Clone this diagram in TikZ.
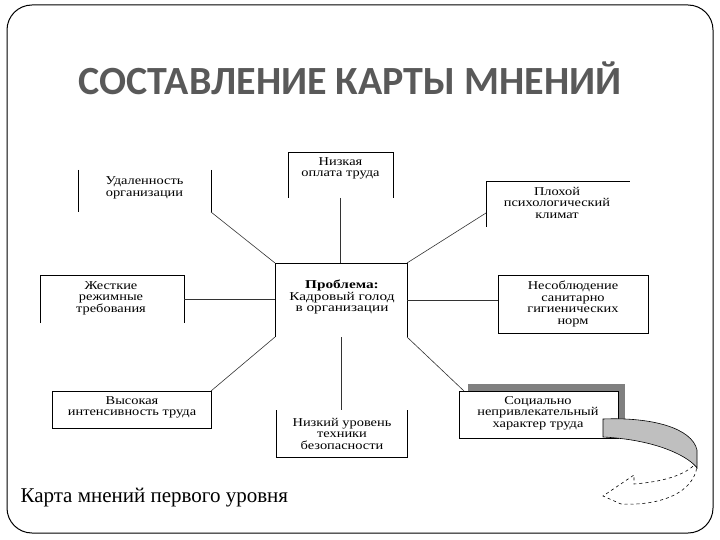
\documentclass[tikz,border=0pt]{standalone}
\usepackage{fontspec}
\setmainfont{Liberation Serif}
\newfontfamily\titlefont{Carlito}
\usetikzlibrary{calc}
\begin{document}
\begin{tikzpicture}[x=1pt,y=-1pt,
  bx/.style={rectangle,inner sep=0pt,outer sep=0pt},
  txt/.style={font=\fontsize{12}{11.5}\selectfont,align=center,inner sep=0pt,xscale=1.2,transform shape},
  side/.style={line width=0.9pt,black},
  conn/.style={line width=0.6pt,black!80}]
\useasboundingbox (0,0) rectangle (720,540);
% frame
\draw[line width=1pt,rounded corners=25pt] (7,5) rectangle (713,533);
% title
\node[font=\titlefont\bfseries\fontsize{40}{40}\selectfont,text=black!65] (title) at (350,78) {СОСТАВЛЕНИЕ КАРТЫ МНЕНИЙ};
% boxes
\node[bx,minimum width=133pt,minimum height=42pt] (b1) at (144.5,191) {};
\node[bx,minimum width=105pt,minimum height=46pt] (b2) at (340.5,175) {};
\node[bx,minimum width=144pt,minimum height=46pt] (b3) at (558,204) {};
\node[bx,minimum width=144pt,minimum height=48pt] (b4) at (112,299) {};
\node[bx,minimum width=132pt,minimum height=74pt] (c) at (341,300) {};
\node[bx,minimum width=150pt,minimum height=58pt] (b6) at (573,304) {};
\node[bx,minimum width=159pt,minimum height=37pt] (b7) at (131.5,409.5) {};
\node[bx,minimum width=131pt,minimum height=47pt] (b8) at (341.5,433.5) {};
% shadow of b9
\fill[black!50] (468,384) rectangle (625,428);
\node[bx,minimum width=159pt,minimum height=47pt,fill=white,draw,line width=0.9pt] (b9) at (538.5,414.5) {};
% partial borders
\draw[side] (b1.north west)--(b1.south west) (b1.north east)--(b1.south east);
\draw[side] (b2.south west)--(b2.north west)--(b2.north east)--(b2.south east);
\draw[side] (b3.south west)--(b3.north west)--(b3.north east);
\draw[side] (b4.south west)--(b4.north west)--(b4.north east)--(b4.south east);
\draw[side] (c.south west)--(c.north west)--(c.north east)--(c.south east);
\draw[side] (b6.north west) rectangle (b6.south east);
\draw[side] (b7.north west) rectangle (b7.south east);
\draw[side] (b8.north west)--(b8.south west)--(b8.south east)--(b8.north east);
% texts
\node[txt] (t1) at (144.5,188) {Удаленность\\организации};
\node[txt] (t2) at (340.5,168.5) {Низкая\\оплата труда};
\node[txt] (t3) at (557,202.5) {Плохой\\психологический\\климат};
\node[txt] (t4) at (111,298) {Жесткие\\режимные\\требования};
\node[txt,xscale=1.06] (tc) at (342,297) {\textbf{Проблема:}\\Кадровый голод\\в организации};
\node[txt] (t6) at (573,304) {Несоблюдение\\санитарно\\гигиенических\\норм};
\node[txt] (t7) at (132,407.5) {Высокая\\интенсивность труда};
\node[txt] (t8) at (342,433.5) {Низкий уровень\\техники\\безопасности};
\node[txt] (t9) at (538,413) {Социально\\непривлекательный\\характер труда};
% connectors
\draw[conn] (b1.south east) -- (c.north west);
\draw[conn] (b2.south) -- (b2.south |- c.north);
\draw[conn] (c.north east) -- ($(b3.south west)+(0,-14)$);
\draw[conn] (b4.east) -- (b4.east -| c.west);
\draw[conn] (c.east) -- (c.east -| b6.west);
\draw[conn] (c.south west) -- (b7.north east);
\draw[conn] (c.south) -- (c.south |- b8.north);
\draw[conn] (c.south east) -- ($(b9.north west)+(5,0)$);
% curved arrow
\draw[line width=0.6pt,dashed,fill=white] (697,462) .. controls (686,476) and (660,482) .. (634,484) -- (634,475) -- (603,496) -- (621,504) .. controls (662,506) and (694,492) .. (697,466);
\draw[line width=0.6pt,fill=black!25] (603,419) .. controls (652,417) and (692,428) .. (697,450) -- (697,468) .. controls (690,458) and (660,440) .. (603,437) -- cycle;
% caption
\node[anchor=base west,font=\fontsize{21}{21}\selectfont] (cap) at (17,502) {Карта мнений первого уровня};
\end{tikzpicture}
\end{document}
